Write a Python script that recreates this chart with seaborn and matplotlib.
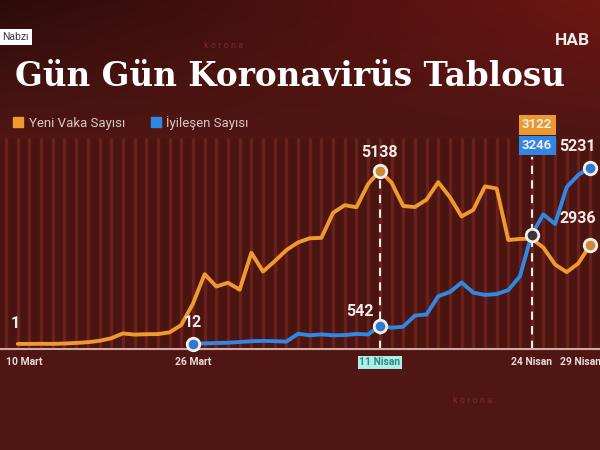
import numpy as np
import pandas as pd
import matplotlib
matplotlib.use('Agg')
import matplotlib.pyplot as plt
import matplotlib.transforms as mtransforms
import seaborn as sns
from matplotlib.lines import Line2D

# day 0 = 10 Mart
case_days = list(range(1, 51))  # 11 Mart .. 29 Nisan
new_cases = [1, 0, 4, 1, 12, 29, 51, 93, 168, 311, 277, 289, 293, 343, 561,
             1196, 2069, 1704, 1815, 1610, 2704,
             2148, 2456, 2786, 3013, 3135, 3148, 3892, 4117, 4056, 4747,
             5138, 4789, 4093, 4062, 4281, 4801, 4353, 3783, 3977, 4674,
             4611, 3083, 3116, 3122, 2861, 2357, 2131, 2392, 2936]
rec_days = list(range(16, 51))  # 26 Mart .. 29 Nisan
recovered = [12, 16, 28, 35, 57, 81,
             90, 82, 69, 302, 256, 284, 256, 264, 296, 281,
             542, 481, 511, 842, 875, 1415, 1542, 1822, 1523, 1454,
             1480, 1600, 2010, 3246, 3845, 3558, 4651, 5018, 5231]

tick_days = [0, 16, 32, 45, 50]
tick_labels = ['10 Mart', '26 Mart', '11 Nisan', '24 Nisan', '29 Nisan']
series_names = ['Yeni Vaka Sayısı', 'İyileşen Sayısı']
colors = {'Yeni Vaka Sayısı': '#ee9a30', 'İyileşen Sayısı': '#2f88e6'}

df = pd.concat([
    pd.DataFrame({'day': case_days, 'value': new_cases, 'series': series_names[0]}),
    pd.DataFrame({'day': rec_days, 'value': recovered, 'series': series_names[1]}),
])

sns.set_theme(style='dark')
plt.rcParams['font.family'] = ['Roboto', 'DejaVu Sans']

fig = plt.figure(figsize=(6, 4.5), dpi=100)

# background gradient
bg = fig.add_axes([0, 0, 1, 1], zorder=-10)
yy, xx = np.mgrid[0:1:450j, 0:1:600j]
base = np.array([0x4f, 0x16, 0x13]) / 255
top = np.clip(1 - yy / 0.3, 0, 1)
img = base[None, None, :] * (1 - 0.45 * (1 - xx[..., None]) * top[..., None])
img[..., 0] += 0.12 * xx * top
img = np.clip(img, 0, 1)
bg.imshow(img, aspect='auto', extent=[0, 1, 0, 1])
bg.axis('off')

ax = fig.add_axes([0, 1 - 349 / 450, 1, (349 - 138) / 450])
ax.set_facecolor('#4a1411')
ax.vlines(np.arange(-1, 52), -150, 6110, color='#6a211c', lw=2.4, zorder=0)

sns.lineplot(data=df, x='day', y='value', hue='series', palette=colors,
             lw=2.8, legend=False, ax=ax, zorder=3)

ax.set_xlim(-0.52, 50.85)
ax.set_ylim(-150, 6110)
for s in ['top', 'left', 'right']:
    ax.spines[s].set_visible(False)
ax.spines['bottom'].set_color('#d2aca4')
ax.spines['bottom'].set_linewidth(1.5)
ax.set_yticks([])
ax.set_xticks(tick_days)
ax.set_xticklabels(tick_labels)
ax.tick_params(axis='x', length=0, pad=6, labelsize=7.5, labelcolor='#e8dcd8')
for t in ax.get_xticklabels():
    t.set_fontweight('bold')
xl = ax.get_xticklabels()
xl[0].set_ha('left')
xl[-1].set_ha('left')
xl[-1].set_transform(xl[-1].get_transform() +
                     mtransforms.ScaledTranslation(-0.30, 0, fig.dpi_scale_trans))
lbl = xl[2]
lbl.set_color('#2f8c86')
lbl.set_bbox(dict(boxstyle='square,pad=0.15', fc='#aeeee6', ec='none'))
ax.set_xlabel('')
ax.set_ylabel('')

# dashed guides
ax.vlines(32, -150, new_cases[case_days.index(32)], color='#f4ece8',
          lw=1.5, linestyles=(0, (4, 3)), zorder=2)
ax.vlines(45, -150, 5550, color='#f4ece8', lw=1.5, linestyles=(0, (4, 3)), zorder=2)

# markers
ring = '#f6efe8'
def mark(day, val, fc):
    ax.plot(day, val, 'o', ms=9, mfc=fc, mec=ring, mew=2, zorder=5, clip_on=False)

mark(32, new_cases[case_days.index(32)], '#c98a3a')
mark(50, new_cases[-1], '#c98a3a')
mark(16, recovered[0], '#2f7ad0')
mark(32, recovered[rec_days.index(32)], '#2f7ad0')
mark(50, recovered[-1], '#2f7ad0')
mark(45, recovered[rec_days.index(45)], '#3c3535')

txt = dict(color='#f4ece8', fontsize=11.5, fontweight='bold', ha='center',
           va='center', textcoords='offset points', zorder=6, annotation_clip=False)
ax.annotate(str(new_cases[0]), (1, new_cases[0]), xytext=(-2, 15), **txt)
ax.annotate(str(recovered[0]), (16, recovered[0]), xytext=(0, 15), **txt)
ax.annotate(str(recovered[rec_days.index(32)]), (32, recovered[rec_days.index(32)]),
            xytext=(-14, 10), **txt)
ax.annotate(str(new_cases[case_days.index(32)]), (32, new_cases[case_days.index(32)]),
            xytext=(0, 13), **txt)
ax.annotate(str(new_cases[-1]), (50, new_cases[-1]), xytext=(-9, 19), **txt)
ax.annotate(str(recovered[-1]), (50, recovered[-1]), xytext=(-9, 15), **txt)

box = dict(color='#f4ece8', fontsize=9.5, fontweight='bold', ha='center',
           va='center', textcoords='offset points', zorder=6, annotation_clip=False)
ax.annotate(str(new_cases[case_days.index(45)]), (45, recovered[rec_days.index(45)]),
            xytext=(4, 79), bbox=dict(boxstyle='square,pad=0.25', fc='#e8992f', ec='none'),
            **box)
ax.annotate(str(recovered[rec_days.index(45)]), (45, recovered[rec_days.index(45)]),
            xytext=(4, 64), bbox=dict(boxstyle='square,pad=0.25', fc='#2f86e6', ec='none'),
            **box)

# title, legend, channel texts
fig.text(0.025, 0.83, 'Gün Gün Koronavirüs Tablosu', family='DejaVu Serif',
         fontweight='bold', fontsize=23.5, color='white', va='center')
handles = [Line2D([], [], marker='s', ls='', ms=7.5, color=colors[n]) for n in series_names]
fig.legend(handles, series_names, loc='center left', bbox_to_anchor=(0.0, 0.727),
           ncol=2, frameon=False, fontsize=9.5, labelcolor='#d8c8c4',
           handletextpad=0.3, columnspacing=1.8, handlelength=1.0)
fig.text(0.004, 0.918, 'Nabzı', fontsize=7.5, color='#3a3a4a', va='center',
         bbox=dict(boxstyle='square,pad=0.25', fc='white', ec='none'))
fig.text(0.925, 0.91, 'HAB', fontsize=12.5, fontweight='bold', color='#eeeeee', va='center')
fig.text(0.34, 0.9, 'k o r o n a', fontsize=6.5, color='#7a2a26', va='center')
fig.text(0.755, 0.11, 'k o r o n a', fontsize=6.5, color='#7e2c26', va='center')

fig.savefig('out.png', dpi=100, facecolor='#4d1512')
